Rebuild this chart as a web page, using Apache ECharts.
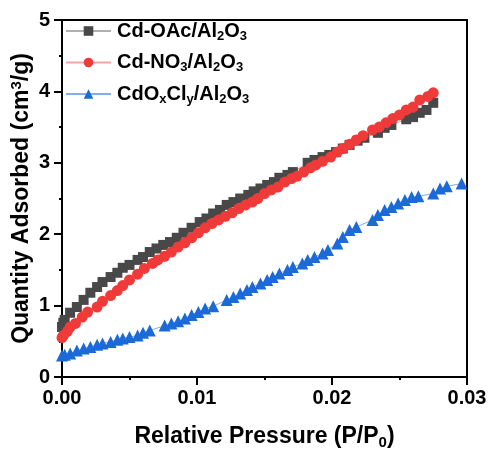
<!DOCTYPE html>
<html>
<head>
<meta charset="utf-8">
<script src="https://cdn.jsdelivr.net/npm/echarts@6/dist/echarts.min.js"></script>
<style>html,body{margin:0;padding:0;background:#fff;}#c{width:491px;height:452px;}</style>
</head>
<body>
<div id="c"></div>
<script>
// Data (x = P/P0, y = quantity adsorbed cm3/g)
var oacData = [[0,0.7],[0.0001,0.76],[0.0002,0.8],[0.0006,0.9],[0.0011,0.98],[0.0016,1.08],[0.0021,1.18],[0.0026,1.26],[0.003,1.33],[0.0036,1.4],[0.0041,1.46],[0.0045,1.53],[0.005,1.57],[0.0056,1.64],[0.006,1.68],[0.0065,1.75],[0.007,1.8],[0.0075,1.85],[0.008,1.89],[0.0085,1.95],[0.009,2.02],[0.0096,2.09],[0.0102,2.17],[0.0107,2.22],[0.0112,2.29],[0.0117,2.34],[0.0122,2.41],[0.0127,2.45],[0.0132,2.5],[0.0138,2.55],[0.0142,2.6],[0.0147,2.64],[0.0152,2.69],[0.0157,2.73],[0.0161,2.79],[0.0167,2.83],[0.0171,2.87],[0.0182,3.0],[0.0187,3.04],[0.0193,3.08],[0.0198,3.11],[0.0203,3.15],[0.0208,3.2],[0.0213,3.25],[0.0219,3.31],[0.0224,3.35],[0.0234,3.42],[0.0239,3.49],[0.0244,3.53],[0.0255,3.61],[0.026,3.64],[0.0265,3.7],[0.027,3.74],[0.0275,3.84]];
var no3Data = [[0,0.55],[0.0001,0.58],[0.0004,0.64],[0.0006,0.7],[0.001,0.75],[0.0015,0.84],[0.0019,0.91],[0.0026,0.98],[0.003,1.06],[0.0036,1.14],[0.0041,1.21],[0.0045,1.28],[0.005,1.36],[0.0056,1.44],[0.0061,1.52],[0.0067,1.59],[0.0071,1.64],[0.0076,1.69],[0.0081,1.75],[0.0086,1.82],[0.0091,1.88],[0.0096,1.95],[0.0101,2.02],[0.0106,2.09],[0.0111,2.15],[0.0116,2.2],[0.0121,2.25],[0.0126,2.3],[0.0131,2.36],[0.0136,2.41],[0.0141,2.45],[0.0145,2.5],[0.015,2.57],[0.0155,2.62],[0.016,2.66],[0.0165,2.73],[0.017,2.78],[0.0174,2.81],[0.0179,2.87],[0.0184,2.93],[0.0188,2.97],[0.0193,3.02],[0.0199,3.08],[0.0204,3.15],[0.0208,3.2],[0.0213,3.26],[0.0218,3.32],[0.0223,3.38],[0.023,3.46],[0.0235,3.5],[0.024,3.56],[0.0245,3.62],[0.025,3.67],[0.0255,3.74],[0.026,3.78],[0.0265,3.88],[0.0271,3.93],[0.0275,3.98]];
var clData = [[0,0.3],[0.0002,0.31],[0.0006,0.33],[0.0011,0.37],[0.0016,0.4],[0.0021,0.42],[0.0026,0.45],[0.003,0.47],[0.0036,0.49],[0.0041,0.52],[0.0045,0.54],[0.005,0.56],[0.0056,0.58],[0.006,0.62],[0.0065,0.65],[0.0076,0.72],[0.0081,0.75],[0.0086,0.78],[0.0091,0.82],[0.0096,0.87],[0.0101,0.91],[0.0106,0.96],[0.0112,0.99],[0.0122,1.08],[0.0127,1.12],[0.0132,1.17],[0.0137,1.22],[0.0141,1.26],[0.0147,1.31],[0.0152,1.36],[0.0156,1.4],[0.0161,1.45],[0.0167,1.5],[0.0171,1.54],[0.0178,1.59],[0.0182,1.64],[0.0187,1.68],[0.0193,1.73],[0.0197,1.78],[0.0204,1.87],[0.0208,1.96],[0.0213,2.06],[0.0218,2.1],[0.023,2.2],[0.0234,2.27],[0.0239,2.34],[0.0244,2.38],[0.0249,2.43],[0.0254,2.48],[0.0259,2.52],[0.0264,2.53],[0.0275,2.57],[0.028,2.64],[0.0285,2.67],[0.0296,2.71]];
var seriesNames = ['Cd-OAc/Al2O3', 'Cd-NO3/Al2O3', 'CdOxCly/Al2O3'];
var legendRich = {
  '0': '{a|Cd-OAc/Al}{s|2}{a|O}{s|3}',
  '1': '{a|Cd-NO}{s|3}{a|/Al}{s|2}{a|O}{s|3}',
  '2': '{a|CdO}{s|x}{a|Cl}{s|y}{a|/Al}{s|2}{a|O}{s|3}'
};
var xTicks = {min: 0, max: 0.03, interval: 0.01};
var yTicks = {min: 0, max: 5, interval: 1};

var F = '"Liberation Sans", Arial, sans-serif';
var chart = echarts.init(document.getElementById('c'), null, {renderer: 'canvas'});
function txt(size, lh, extra) {
  var o = {fontSize: size, fontWeight: 'bold', fontFamily: F, color: '#000', lineHeight: lh};
  for (var k in extra) o[k] = extra[k];
  return o;
}

chart.setOption({
  animation: false,
  backgroundColor: '#fff',
  grid: {left: 62, right: 24, top: 20, bottom: 75, containLabel: false, outerBoundsMode: 'none',
         show: true, borderColor: '#000', borderWidth: 2, backgroundColor: 'transparent'},
  legend: {
    orient: 'vertical', left: 65, top: 21, padding: 0, itemWidth: 45, itemHeight: 12, itemGap: 10,
    data: seriesNames,
    formatter: function (n) { return legendRich[seriesNames.indexOf(n)]; },
    textStyle: {padding: [0, 0, 0, 1], rich: {a: txt(20, 23), s: txt(13, 12, {verticalAlign: 'bottom'})}}
  },
  xAxis: {
    type: 'value', min: xTicks.min, max: xTicks.max, interval: xTicks.interval,
    axisLine: {lineStyle: {color: '#000', width: 2}},
    axisTick: {inside: false, length: 8, lineStyle: {color: '#000', width: 2}},
    minorTick: {show: true, splitNumber: 2, length: 3, lineStyle: {color: '#000', width: 2}},
    splitLine: {show: false},
    axisLabel: {fontSize: 20, fontWeight: 'bold', fontFamily: F, color: '#000', margin: 11, formatter: function (v) { return v.toFixed(2); }},
    name: '{a|Relative Pressure (P/P}{s|0}{a|)}', nameLocation: 'middle', nameGap: 47, nameMoveOverlap: false,
    nameTextStyle: {rich: {a: txt(23, 26), s: txt(15, 14, {verticalAlign: 'bottom'})}}
  },
  yAxis: {
    type: 'value', min: yTicks.min, max: yTicks.max, interval: yTicks.interval,
    axisLine: {lineStyle: {color: '#000', width: 2}},
    axisTick: {inside: false, length: 8, lineStyle: {color: '#000', width: 2}},
    minorTick: {show: true, splitNumber: 2, length: 3, lineStyle: {color: '#000', width: 2}},
    splitLine: {show: false},
    axisLabel: {fontSize: 20, fontWeight: 'bold', fontFamily: F, color: '#000', margin: 12},
    name: '{a|Quantity Adsorbed (cm}{p|3}{a|/g)}', nameLocation: 'middle', nameGap: 27, nameRotate: 90, nameMoveOverlap: false,
    nameTextStyle: {rich: {a: txt(23, 26), p: txt(15, 14, {verticalAlign: 'top'})}}
  },
  series: [
    {name: seriesNames[0], type: 'line', data: oacData, symbol: 'rect', symbolSize: 10, showSymbol: true,
     itemStyle: {color: '#484848'}, lineStyle: {color: '#b0b0b0', width: 1}, z: 2},
    {name: seriesNames[1], type: 'line', data: no3Data, symbol: 'circle', symbolSize: 11,
     itemStyle: {color: '#f03a3a'}, lineStyle: {color: '#f5a5a5', width: 1}, z: 3},
    {name: seriesNames[2], type: 'line', data: clData, symbol: 'triangle', symbolSize: 12,
     itemStyle: {color: '#1b6ad8'}, lineStyle: {color: '#86aee8', width: 1}, z: 4}
  ]
});
</script>
</body>
</html>
